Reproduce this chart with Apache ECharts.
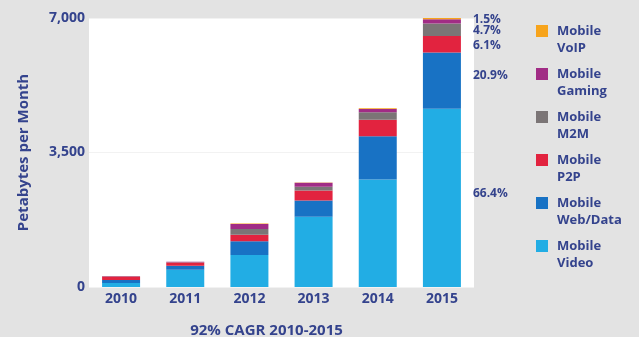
<!DOCTYPE html>
<html>
<head>
<meta charset="utf-8">
<script src="https://cdn.jsdelivr.net/npm/echarts@6/dist/echarts.min.js"></script>
<style>
html,body{margin:0;padding:0;background:#e3e3e3;}
#c{width:639px;height:337px;}
</style>
</head>
<body>
<div id="c"></div>
<script>
var categories = ['2010', '2011', '2012', '2013', '2014', '2015'];
var video   = [105, 450, 830, 1830, 2800, 4640];
var webData = [75, 100, 360, 420, 1120, 1460];
var p2p     = [95, 85, 170, 260, 430, 430];
var m2m     = [5, 12, 150, 100, 200, 330];
var gaming  = [3, 8, 130, 100, 85, 110];
var voip    = [1, 3, 10, 10, 15, 30];
var share2015 = ['66.4%', '20.9%', '6.1%', '4.7%', '1.5%', ''];
var yTicks = [0, 3500, 7000];

var navy = '#34438d';
var font = 'Open Sans';

var seriesDefs = [
  {name: 'Mobile Video', legend: 'Mobile\nVideo', data: video, color: '#22ade4', share: share2015[0], dy: -4},
  {name: 'Mobile Web/Data', legend: 'Mobile\nWeb/Data', data: webData, color: '#1872c4', share: share2015[1], dy: -5},
  {name: 'Mobile P2P', legend: 'Mobile\nP2P', data: p2p, color: '#e2233f', share: share2015[2], dy: 1},
  {name: 'Mobile M2M', legend: 'Mobile\nM2M', data: m2m, color: '#7b7576', share: share2015[3], dy: 1},
  {name: 'Mobile Gaming', legend: 'Mobile\nGaming', data: gaming, color: '#a12c85', share: share2015[4], dy: -2},
  {name: 'Mobile VoIP', legend: 'Mobile\nVoIP', data: voip, color: '#f7a41c', share: share2015[5], dy: 0}
];
var legendNames = {};
seriesDefs.forEach(function (s) { legendNames[s.name] = s.legend; });

var series = seriesDefs.map(function (s) {
  return {
    name: s.name,
    type: 'bar',
    stack: 'total',
    barWidth: 38,
    itemStyle: {color: s.color},
    data: s.data.map(function (v, i) {
      var item = {value: v};
      if (i === categories.length - 1 && s.share) {
        item.label = {
          show: true, position: 'right', distance: 12, offset: [0, s.dy],
          formatter: s.share, color: navy, fontFamily: font, fontWeight: 'bold', fontSize: 12
        };
      }
      return item;
    })
  };
});

var chart = echarts.init(document.getElementById('c'), null, {renderer: 'canvas'});
chart.setOption({
  backgroundColor: '#e3e3e3',
  animation: false,
  grid: {left: 89, right: 165, top: 18, bottom: 50, show: true, backgroundColor: '#ffffff', borderWidth: 0,
    outerBoundsMode: 'none', containLabel: false},
  legend: {
    orient: 'vertical', left: 536, top: 5.5, padding: 0, itemGap: -8,
    itemWidth: 12, itemHeight: 12, icon: 'rect',
    data: seriesDefs.slice().reverse().map(function (s) { return s.name; }),
    formatter: function (n) { return '\n' + legendNames[n]; },
    textStyle: {color: navy, fontFamily: font, fontWeight: 'bold', fontSize: 13, lineHeight: 17, padding: [0, 0, 0, 4]}
  },
  xAxis: {
    type: 'category', data: categories,
    axisLine: {show: false}, axisTick: {show: false},
    axisLabel: {color: navy, fontFamily: font, fontWeight: 'bold', fontSize: 14, margin: 5},
    name: '92% CAGR 2010-2015', nameLocation: 'middle', nameGap: 36,
    nameTextStyle: {color: navy, fontFamily: font, fontWeight: 'bold', fontSize: 15, padding: [0, 30, 0, 0]}
  },
  yAxis: {
    type: 'value', min: yTicks[0], max: yTicks[2], interval: yTicks[1],
    axisLine: {show: false}, axisTick: {show: false},
    splitLine: {show: true, lineStyle: {color: '#f2f2f2'}},
    axisLabel: {color: navy, fontFamily: font, fontWeight: 'bold', fontSize: 14, margin: 4,
      formatter: function (v) { return v.toLocaleString('en-US'); }},
    name: 'Petabytes per Month', nameLocation: 'middle', nameGap: 58, nameRotate: 90,
    nameTextStyle: {color: navy, fontFamily: font, fontWeight: 'bold', fontSize: 15}
  },
  series: series
});
</script>
</body>
</html>
